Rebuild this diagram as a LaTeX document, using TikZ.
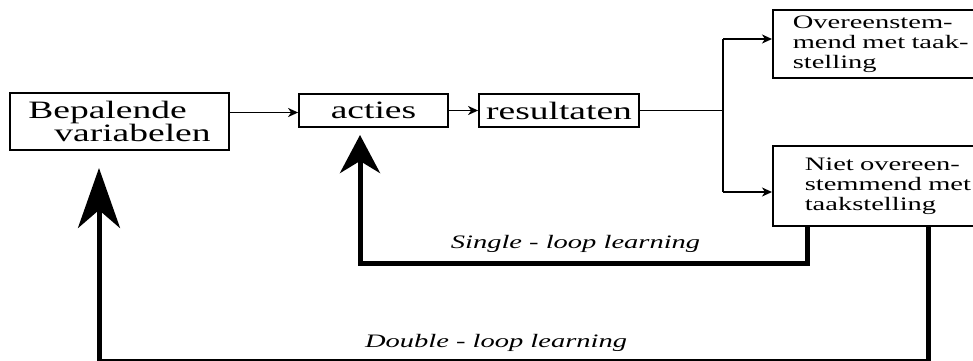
\documentclass[tikz,border=0pt]{standalone}
\usepackage{fontspec}
\setmainfont{Liberation Serif}[FakeStretch=1.5]
\usetikzlibrary{arrows.meta}
\begin{document}
\begin{tikzpicture}[x=1pt,y=-1pt,
  box/.style={draw, line width=1.8pt, inner sep=0pt, font=\fontsize{25}{23}\selectfont},
  rbox/.style={draw, line width=1.6pt, anchor=north west, inner xsep=20pt, inner ysep=0pt,
    text width=200pt, align=left, font=\fontsize{19}{20}\selectfont},
  thinarrow/.style={line width=1.8pt, -{Stealth[length=10pt,width=9pt,inset=3pt]}},
  loopline/.style={line width=5pt, line join=miter},
  lbl/.style={font=\fontsize{19}{20}\selectfont\itshape, anchor=base}
]
\clip (0,0) rectangle (973,360);
\fill[white] (0,0) rectangle (973,360);

\node[box, minimum width=219pt, minimum height=57pt, align=left] (bv) at (119.5,121.5)
  {Bepalende\\\hspace*{26pt}variabelen};
\node[box, minimum width=149pt, minimum height=33pt] (ac) at (373.5,110.5) {acties};
\node[box, minimum width=160pt, minimum height=33pt] (rs) at (559,110.5) {resultaten};
\node[rbox, minimum height=68pt] (ov) at (772,9) {Overeenstem-\\mend met taak-\\stelling};
\node[rbox, inner xsep=32pt, minimum height=80pt] (no) at (772,145) {Niet overeen-\\stemmend met\\taakstelling};

\coordinate (br) at (723,110);
\coordinate (bt) at (723,39);
\coordinate (bb) at (723,192);

\draw[thinarrow] ([yshift=-2pt]bv.east |- ac.west) -- ([yshift=-2pt]ac.west);
\draw[thinarrow] (ac) -- (rs);
\draw[line width=1pt] (rs.east |- br) -- (br);
\draw[line width=1.6pt] (bt) -- (bb);
\draw[thinarrow] (bt) -- (bt -| ov.west);
\draw[thinarrow] (bb) -- (bb -| no.west);

\coordinate (s1) at (807,263);
\coordinate (s2) at (360,263);
\coordinate (s3) at (360,135);
\draw[loopline, -{Stealth[length=38pt,width=40pt,inset=12pt]}]
  (s1 |- no.south) -- (s1) -- (s2) -- (s3);

\coordinate (d1) at (928,361);
\coordinate (d2) at (99,361);
\coordinate (d3) at (99,168);
\draw[loopline, -{Stealth[length=60pt,width=42pt,inset=18pt]}]
  (d1 |- no.south) -- (d1) -- (d2) -- (d3);

\node[lbl] (sl) at (575.5,248) {Single - loop learning};
\node[lbl] (dl) at (496,347) {Double - loop learning};
\end{tikzpicture}
\end{document}
